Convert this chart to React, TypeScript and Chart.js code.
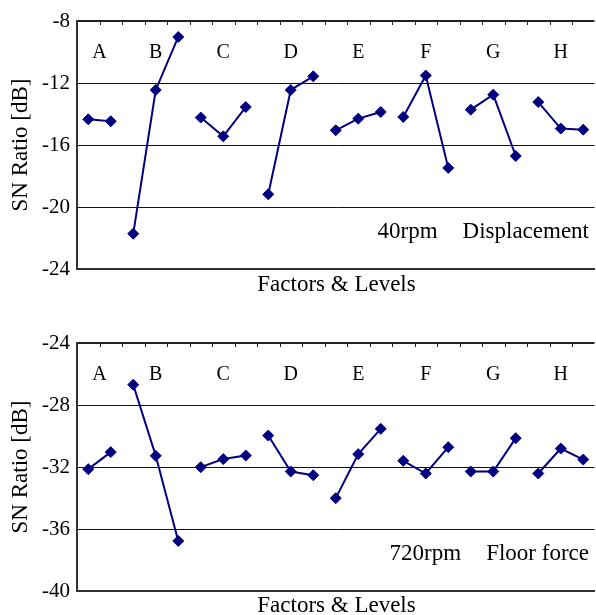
import React, { useEffect, useRef } from 'react';
import { Chart, registerables } from 'chart.js';

Chart.register(...registerables);

// ---- data ----
const factors = ['A', 'B', 'C', 'D', 'E', 'F', 'G', 'H'];
const levelCounts = [2, 3, 3, 3, 3, 3, 3, 3];
const levelLabels = [
  'A1', 'A2',
  'B1', 'B2', 'B3',
  'C1', 'C2', 'C3',
  'D1', 'D2', 'D3',
  'E1', 'E2', 'E3',
  'F1', 'F2', 'F3',
  'G1', 'G2', 'G3',
  'H1', 'H2', 'H3',
];
const displacement40rpm = [
  -14.34, -14.47,
  -21.72, -12.45, -9.03,
  -14.23, -15.44, -13.55,
  -19.18, -12.45, -11.57,
  -15.05, -14.3, -13.87,
  -14.19, -11.52, -17.48,
  -13.72, -12.75, -16.71,
  -13.23, -14.94, -15.01,
];
const floorForce720rpm = [
  -32.14, -31.04,
  -26.69, -31.28, -36.77,
  -32.01, -31.49, -31.26,
  -29.97, -32.29, -32.53,
  -34.01, -31.17, -29.54,
  -31.6, -32.42, -30.72,
  -32.29, -32.29, -30.14,
  -32.42, -30.81, -31.52,
];
const topRange = [-24, -8];
const bottomRange = [-40, -24];
const yStep = 4;
const yTitle = 'SN Ratio [dB]';
const xTitle = 'Factors & Levels';
const topNote = ['40rpm', 'Displacement'];
const bottomNote = ['720rpm', 'Floor force'];

// group index of each level
const groupOf: number[] = [];
levelCounts.forEach((n, g) => {
  for (let i = 0; i < n; i++) groupOf.push(g);
});

const SERIF = '"Liberation Serif", "Times New Roman", serif';
const NAVY = '#000080';

type PanelProps = {
  values: number[];
  range: number[];
  note: string[];
  height: number;
  padTop: number;
  xHeight: number;
  titleOffset: number;
};

function Panel({ values, range, note, height, padTop, xHeight, titleOffset }: PanelProps) {
  const ref = useRef<HTMLCanvasElement>(null);

  useEffect(() => {
    if (!ref.current) return;
    const textPlugin = {
      id: 'customText',
      afterDraw(chart: any) {
        const { ctx, chartArea } = chart;
        const xs = chart.scales.x;
        ctx.save();
        // top tick marks (inward)
        ctx.strokeStyle = '#222';
        ctx.lineWidth = 1;
        const n = levelLabels.length;
        const w = (chartArea.right - chartArea.left) / n;
        for (let i = 1; i < n; i++) {
          const x = Math.round(chartArea.left + i * w) + 0.5;
          ctx.beginPath();
          ctx.moveTo(x, chartArea.top);
          ctx.lineTo(x, chartArea.top + 4);
          ctx.stroke();
        }
        // factor letters
        ctx.fillStyle = '#000';
        ctx.font = `20px ${SERIF}`;
        ctx.textAlign = 'center';
        ctx.textBaseline = 'alphabetic';
        let start = 0;
        factors.forEach((f, g) => {
          const cnt = levelCounts[g];
          let sum = 0;
          for (let i = start; i < start + cnt; i++) sum += xs.getPixelForValue(i);
          ctx.fillText(f, sum / cnt, chartArea.top + 37);
          start += cnt;
        });
        // note
        ctx.font = `23px ${SERIF}`;
        ctx.textAlign = 'right';
        const noteY = chartArea.bottom - 31;
        const rightX = 589;
        ctx.fillText(note[1], rightX, noteY);
        const rw = ctx.measureText(note[1]).width;
        ctx.fillText(note[0], rightX - rw - 25, noteY);
        // x title
        ctx.textAlign = 'center';
        ctx.fillText(xTitle, (chartArea.left + 596) / 2, chartArea.bottom + titleOffset);
        // y title
        ctx.translate(27, (chartArea.top + chartArea.bottom) / 2);
        ctx.rotate(-Math.PI / 2);
        ctx.fillText(yTitle, 0, 0);
        ctx.restore();
      },
    };

    const chart = new Chart(ref.current, {
      type: 'line',
      data: {
        labels: levelLabels,
        datasets: [
          {
            data: values,
            borderColor: NAVY,
            backgroundColor: NAVY,
            borderWidth: 2,
            pointStyle: 'rectRot',
            pointRadius: 5.5,
            pointBackgroundColor: NAVY,
            pointBorderColor: NAVY,
            pointBorderWidth: 1,
            tension: 0,
            segment: {
              borderColor: (c: any) =>
                groupOf[c.p0DataIndex] === groupOf[c.p1DataIndex] ? undefined : 'rgba(0,0,0,0)',
            },
          },
        ],
      },
      options: {
        responsive: false,
        animation: false,
        layout: { padding: { top: padTop, left: 0, right: 0, bottom: 0 } },
        plugins: { legend: { display: false }, tooltip: { enabled: false }, title: { display: false } },
        scales: {
          x: {
            type: 'category',
            offset: true,
            ticks: { display: false },
            grid: { display: false },
            border: { display: true, color: '#333', width: 2 },
            afterFit: (s: any) => {
              s.height = xHeight;
            },
          },
          y: {
            min: range[0],
            max: range[1],
            ticks: {
              stepSize: yStep,
              color: '#000',
              font: { family: SERIF, size: 21 },
              padding: 7,
            },
            grid: {
              drawTicks: false,
              color: (c: any) => (c.tick && c.tick.value === range[1] ? '#222' : '#111'),
              lineWidth: (c: any) => (c.tick && c.tick.value === range[1] ? 2 : 1),
            },
            border: { display: true, color: '#333', width: 2 },
            afterFit: (s: any) => {
              s.width = 77;
            },
          },
        },
      },
      plugins: [textPlugin],
    } as any);
    return () => chart.destroy();
  }, [values, range, note, padTop, xHeight, titleOffset]);

  return <canvas ref={ref} width={601} height={height} style={{ display: 'block' }} />;
}

export default function App() {
  return (
    <div
      style={{
        position: 'absolute',
        left: 0,
        top: 0,
        width: 596,
        height: 615,
        overflow: 'hidden',
        background: '#fff',
      }}
    >
      <Panel values={displacement40rpm} range={topRange} note={topNote} height={308} padTop={21} xHeight={39} titleOffset={22} />
      <Panel values={floorForce720rpm} range={bottomRange} note={bottomNote} height={307} padTop={35} xHeight={24} titleOffset={21} />
    </div>
  );
}
